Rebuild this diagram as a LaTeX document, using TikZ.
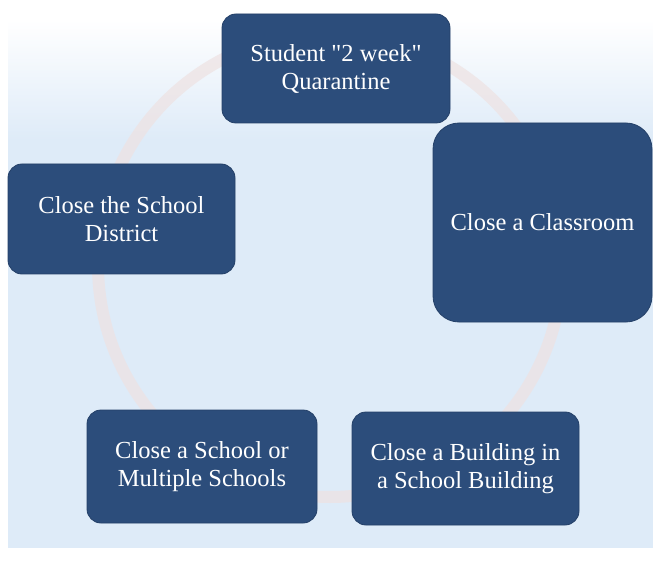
\documentclass[tikz,border=0pt]{standalone}
\usepackage{fontspec}
\setmainfont{Liberation Serif}
\definecolor{boxblue}{RGB}{44,77,123}
\definecolor{boxedge}{RGB}{36,64,104}
\definecolor{pageblue}{RGB}{222,235,248}
\definecolor{ringtone}{RGB}{238,226,226}
\begin{document}
\begin{tikzpicture}[x=1pt,y=-1pt,
  stage/.style={fill=boxblue, draw=boxedge, line width=0.8pt,
    rounded corners=14pt, text=white, align=center, inner sep=0pt,
    font=\fontsize{24.5}{28}\selectfont},
  ring/.style={draw=ringtone, line width=12pt, draw opacity=0.7}
]
\useasboundingbox (0,0) rectangle (653,561);
% page background
\fill[white] (0,0) rectangle (653,561);
\shade[top color=white, bottom color=pageblue] (8,20) rectangle (653,140);
\fill[pageblue] (8,140) rectangle (653,548);
% faint cycle ring behind the stages
\draw[ring] (330,265) circle[radius=232pt];
% stages
\node[stage, minimum width=228pt, minimum height=109pt] (q) at (336,68.5)
  {Student \textquotedbl 2 week\textquotedbl\\Quarantine};
\node[stage, minimum width=219pt, minimum height=199pt, rounded corners=26pt] (c) at (542.5,222.5)
  {Close a Classroom};
\node[stage, minimum width=227pt, minimum height=110pt] (d) at (121.5,219)
  {Close the School\\District};
\node[stage, minimum width=230pt, minimum height=113pt] (s) at (202,466.5)
  {Close a School or\\Multiple Schools};
\node[stage, minimum width=227pt, minimum height=113pt] (b) at (465.5,468.5)
  {Close a Building in\\a School Building};
\end{tikzpicture}
\end{document}
